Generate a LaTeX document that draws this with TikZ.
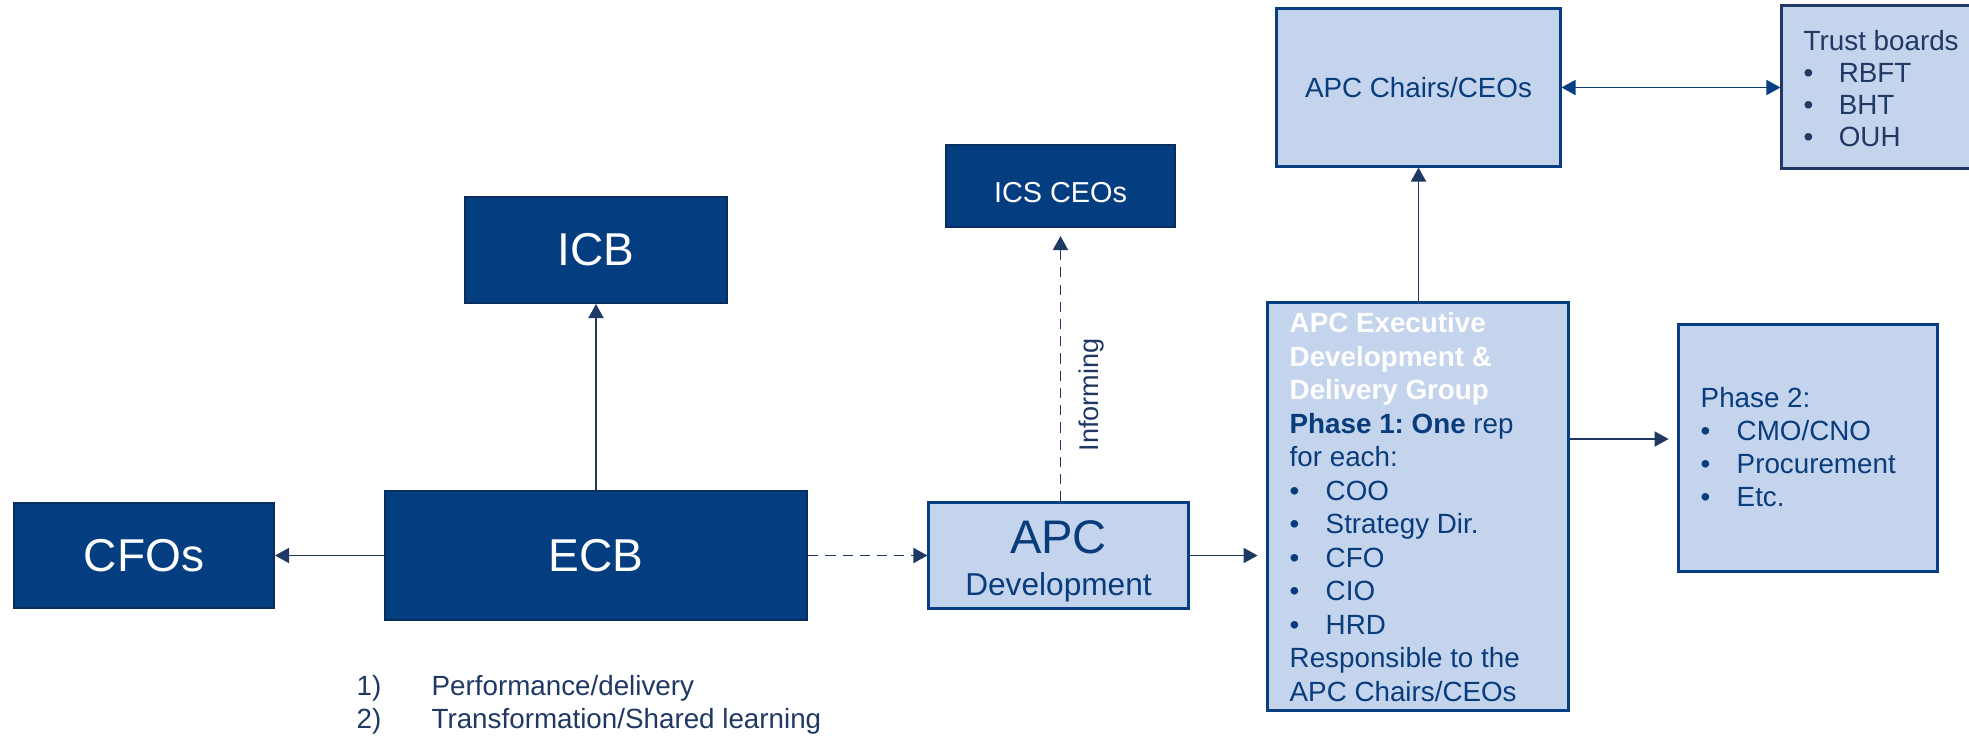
\documentclass[tikz,border=0pt]{standalone}
\usepackage{fontspec}
\setmainfont{Liberation Sans}
\usetikzlibrary{arrows.meta}

\definecolor{darkfill}{RGB}{5,62,128}
\definecolor{darkedge}{RGB}{8,45,95}
\definecolor{lightfill}{RGB}{196,212,236}
\definecolor{lightedge}{RGB}{8,62,130}
\definecolor{textblue}{RGB}{9,60,125}
\definecolor{navy}{RGB}{31,56,100}

% font size and line spacing in pt
\newcommand{\setfs}[2]{\fontsize{#1pt}{#2pt}\selectfont\lineskiplimit=-100pt\relax}
% bullet followed by a fixed indent
\newcommand{\blt}[1][10.24pt]{\makebox[#1][l]{\textbullet}}

\frenchspacing

\begin{document}
\begin{tikzpicture}[x=0.01cm, y=-0.01cm,
  darkbox/.style={draw=darkedge, fill=darkfill, line width=0.55pt, text=white, inner sep=0pt},
  lightbox/.style={draw=lightedge, fill=lightfill, line width=0.85pt, inner sep=0pt},
  bigtext/.style={font=\setfs{13.1}{15}},
  bodytext/.style={inner sep=0pt, align=left, text=textblue},
  arrowline/.style={draw=navy, line width=0.4pt, -{Triangle[length=4pt,width=4.3pt]}},
  dasharrow/.style={arrowline, line width=0.55pt, dash pattern=on 2.9pt off 2pt},
]
\useasboundingbox (0,0) rectangle (1969,736);

% governance boxes on the left
\node[darkbox, bigtext, minimum width=2.60cm, minimum height=1.05cm] (cfo) at (144,555.5) {CFOs};
\node[darkbox, bigtext, minimum width=4.22cm, minimum height=1.29cm] (ecb) at (596,555.5) {ECB};
\node[darkbox, bigtext, minimum width=2.61cm, minimum height=1.06cm] (icb) at (596,250) {ICB};

% ICS CEOs
\node[darkbox, minimum width=2.29cm, minimum height=0.82cm] (ics) at (1060.5,186) {};
\node[text=white, font=\setfs{8.2}{10}, anchor=base, inner sep=0pt] (icstext) at (1060.5,202) {ICS CEOs};

% APC Development
\node[lightbox, minimum width=2.59cm, minimum height=1.05cm] (dev) at (1058.5,555.5) {};
\node[anchor=base, inner sep=0pt, text=textblue, font=\setfs{13.4}{15}] (devtitle) at (1058.5,553) {APC};
\node[anchor=base, inner sep=0pt, text=textblue, font=\setfs{9}{11}] (devsub) at (1058.5,595) {Development};

% executive group
\node[lightbox, minimum width=3.00cm, minimum height=4.08cm] (exec) at (1418,506.5) {};
\node[bodytext, anchor=north west, font=\setfs{7.9}{9.53}] (exectext) at (1289,311.7) {%
  \textcolor{white}{\bfseries APC Executive}\\
  \textcolor{white}{\bfseries Development \&}\\
  \textcolor{white}{\bfseries Delivery Group}\\
  {\bfseries Phase 1: One} rep\\
  for each:\\
  \blt COO\\
  \blt Strategy Dir.\\
  \blt CFO\\
  \blt CIO\\
  \blt HRD\\
  Responsible to the\\
  APC Chairs/CEOs};

% chairs and trust boards
\node[lightbox, text=textblue, font=\setfs{7.9}{9.5}, minimum width=2.83cm, minimum height=1.57cm] (chairs) at (1418.5,87.5) {APC Chairs/CEOs};
\node[lightbox, draw=navy, minimum width=1.88cm, minimum height=1.62cm] (trust) at (1876,87) {};
\node[bodytext, text=navy, anchor=north west, font=\setfs{7.9}{9.1}] (trusttext) at (1803,30) {%
  Trust boards\\
  \blt[10pt]RBFT\\
  \blt[10pt]BHT\\
  \blt[10pt]OUH};

% phase 2
\node[lightbox, minimum width=2.58cm, minimum height=2.46cm] (phase) at (1808,448) {};
\node[bodytext, anchor=north west, font=\setfs{7.9}{9.39}] (phasetext) at (1700,387) {%
  Phase 2:\\
  \blt CMO/CNO\\
  \blt Procurement\\
  \blt Etc.};

% labels
\node[text=navy, rotate=90, font=\setfs{7.7}{9}, inner sep=0pt] (inform) at (1091,395) {Informing};
\node[inner sep=0pt, anchor=north west, align=left, text=navy, font=\setfs{7.9}{9.2}] (notes) at (356,675) {%
  \makebox[21.3pt][l]{1)}Performance/delivery\\
  \makebox[21.3pt][l]{2)}Transformation/Shared learning};

% connectors
\coordinate (phaserow) at (1700,439);
\draw[arrowline] (ecb) -- (icb);
\draw[arrowline] (ecb) -- (cfo);
\draw[dasharrow] (ecb) -- (dev);
\draw[dasharrow, shorten >=2.3pt] (dev.north -| ics.south) -- (ics.south);
\draw[arrowline, shorten >=2.5pt] (dev.east) -- (exec.west |- dev.east);
\draw[arrowline] (exec.north -| chairs.south) -- (chairs.south);
\draw[draw=lightedge, line width=0.5pt, {Triangle[length=4pt,width=4.3pt]}-{Triangle[length=4pt,width=4.3pt]}] (chairs.east) -- (trust.west |- chairs.east);
\draw[arrowline, shorten >=2.5pt] (exec.east |- phaserow) -- (phase.west |- phaserow);
\end{tikzpicture}
\end{document}
